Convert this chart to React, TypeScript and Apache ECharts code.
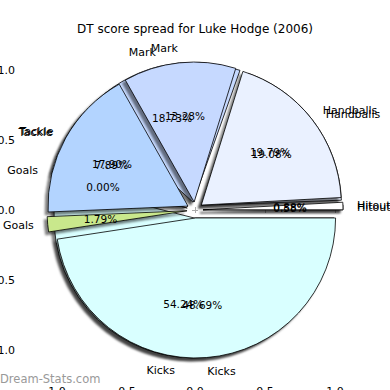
import React, { useEffect, useRef } from 'react';
import * as echarts from 'echarts';

const categories = ['Hitout', 'Handballs', 'Mark', 'Tackle', 'Goals', 'Kicks'];
const spreadA = [0.58, 19.08, 18.73, 7.89, 0.0, 54.24];
const spreadB = [0.88, 19.79, 13.28, 17.9, 1.79, 48.69];
const sliceColors = ['#ffffff', '#eaf1ff', '#c6d9ff', '#b3d4ff', '#c9e88c', '#d9ffff'];
const axisTicks = [-1, -0.5, 0, 0.5, 1];
const titleText = 'DT score spread for Luke Hodge (2006)';
const watermark = 'Dream-Stats.com';

const FONT = '"DejaVu Sans", sans-serif';
const CX = 195;
const CY = 210;
const R = 140;
const OFF = 8;

function items(values: number[], colored: boolean) {
  return categories.map((name, i) => ({
    name,
    value: values[i],
    selected: true,
    itemStyle: colored ? { color: sliceColors[i] } : undefined,
  }));
}

function basePie(values: number[], colored: boolean, radius: number, z: number) {
  return {
    type: 'pie',
    center: [CX, CY],
    radius: [0, radius],
    startAngle: 0,
    clockwise: false,
    selectedMode: 'multiple',
    selectedOffset: OFF,
    avoidLabelOverlap: false,
    labelLayout: { hideOverlap: false },
    silent: true,
    emphasis: { disabled: true },
    z,
    data: items(values, colored),
  };
}

function wedges(values: number[], z: number) {
  return {
    ...basePie(values, true, R, z),
    label: { show: false },
    labelLine: { show: false },
    itemStyle: {
      borderColor: '#000',
      borderWidth: 0.8,
      shadowBlur: 2,
      shadowColor: 'rgba(0,0,0,0.5)',
      shadowOffsetX: -3,
      shadowOffsetY: 3,
    },
  };
}

function nameLabels(values: number[], z: number) {
  return {
    ...basePie(values, false, R, z),
    itemStyle: { color: 'rgba(0,0,0,0)', borderWidth: 0 },
    label: {
      show: true,
      position: 'outside',
      formatter: '{b}',
      color: '#000',
      fontFamily: FONT,
      fontSize: 11,
      distanceToLabelLine: 0,
    },
    labelLine: { show: false, length: 14, length2: 0 },
  };
}

function pctLabels(values: number[], z: number) {
  return {
    ...basePie(values, false, 2 * 0.6 * R, z),
    itemStyle: { color: 'rgba(0,0,0,0)', borderWidth: 0 },
    label: {
      show: true,
      position: 'inside',
      formatter: (p: any) => Number(p.value).toFixed(2) + '%',
      color: '#000',
      fontFamily: FONT,
      fontSize: 10.5,
    },
    labelLine: { show: false },
  };
}

function axisCommon(show: boolean, margin: number) {
  return {
    type: 'value',
    min: -1.25,
    max: 1.25,
    axisLine: { show: false },
    splitLine: { show: false },
    axisTick: {
      show: true,
      inside: true,
      length: 3,
      customValues: axisTicks,
      lineStyle: { color: '#aaa', width: 1 },
    },
    axisLabel: {
      show,
      customValues: axisTicks,
      formatter: (v: number) => v.toFixed(1),
      color: '#000',
      fontFamily: FONT,
      fontSize: 11,
      margin,
    },
  };
}

export default function App() {
  const ref = useRef<HTMLDivElement>(null);
  useEffect(() => {
    if (!ref.current) return;
    const chart = echarts.init(ref.current, undefined, { renderer: 'svg' });
    chart.setOption({
      animation: false,
      backgroundColor: '#fff',
      title: {
        text: titleText,
        left: 'center',
        top: 18,
        textStyle: { fontSize: 12, fontWeight: 'normal', color: '#000', fontFamily: FONT },
      },
      grid: { left: 20, right: 20, top: 35, bottom: 5, outerBoundsMode: 'none', containLabel: false },
      xAxis: [
        { ...axisCommon(true, 1), position: 'bottom' },
        { ...axisCommon(false, 5), position: 'top' },
      ],
      yAxis: [
        { ...axisCommon(true, 5), position: 'left' },
        { ...axisCommon(false, 5), position: 'right' },
      ],
      graphic: [
        {
          type: 'text',
          left: 0,
          top: 373,
          z: 10,
          style: { text: watermark, fill: '#999', font: '11.5px "DejaVu Sans", sans-serif' },
        },
      ],
      series: [
        wedges(spreadA, 2),
        wedges(spreadB, 3),
        nameLabels(spreadA, 5),
        nameLabels(spreadB, 5),
        pctLabels(spreadA, 6),
        pctLabels(spreadB, 6),
      ],
    });
    return () => chart.dispose();
  }, []);
  return (
    <div
      ref={ref}
      style={{ position: 'fixed', left: 0, top: 0, width: 390, height: 390, background: '#fff' }}
    />
  );
}
